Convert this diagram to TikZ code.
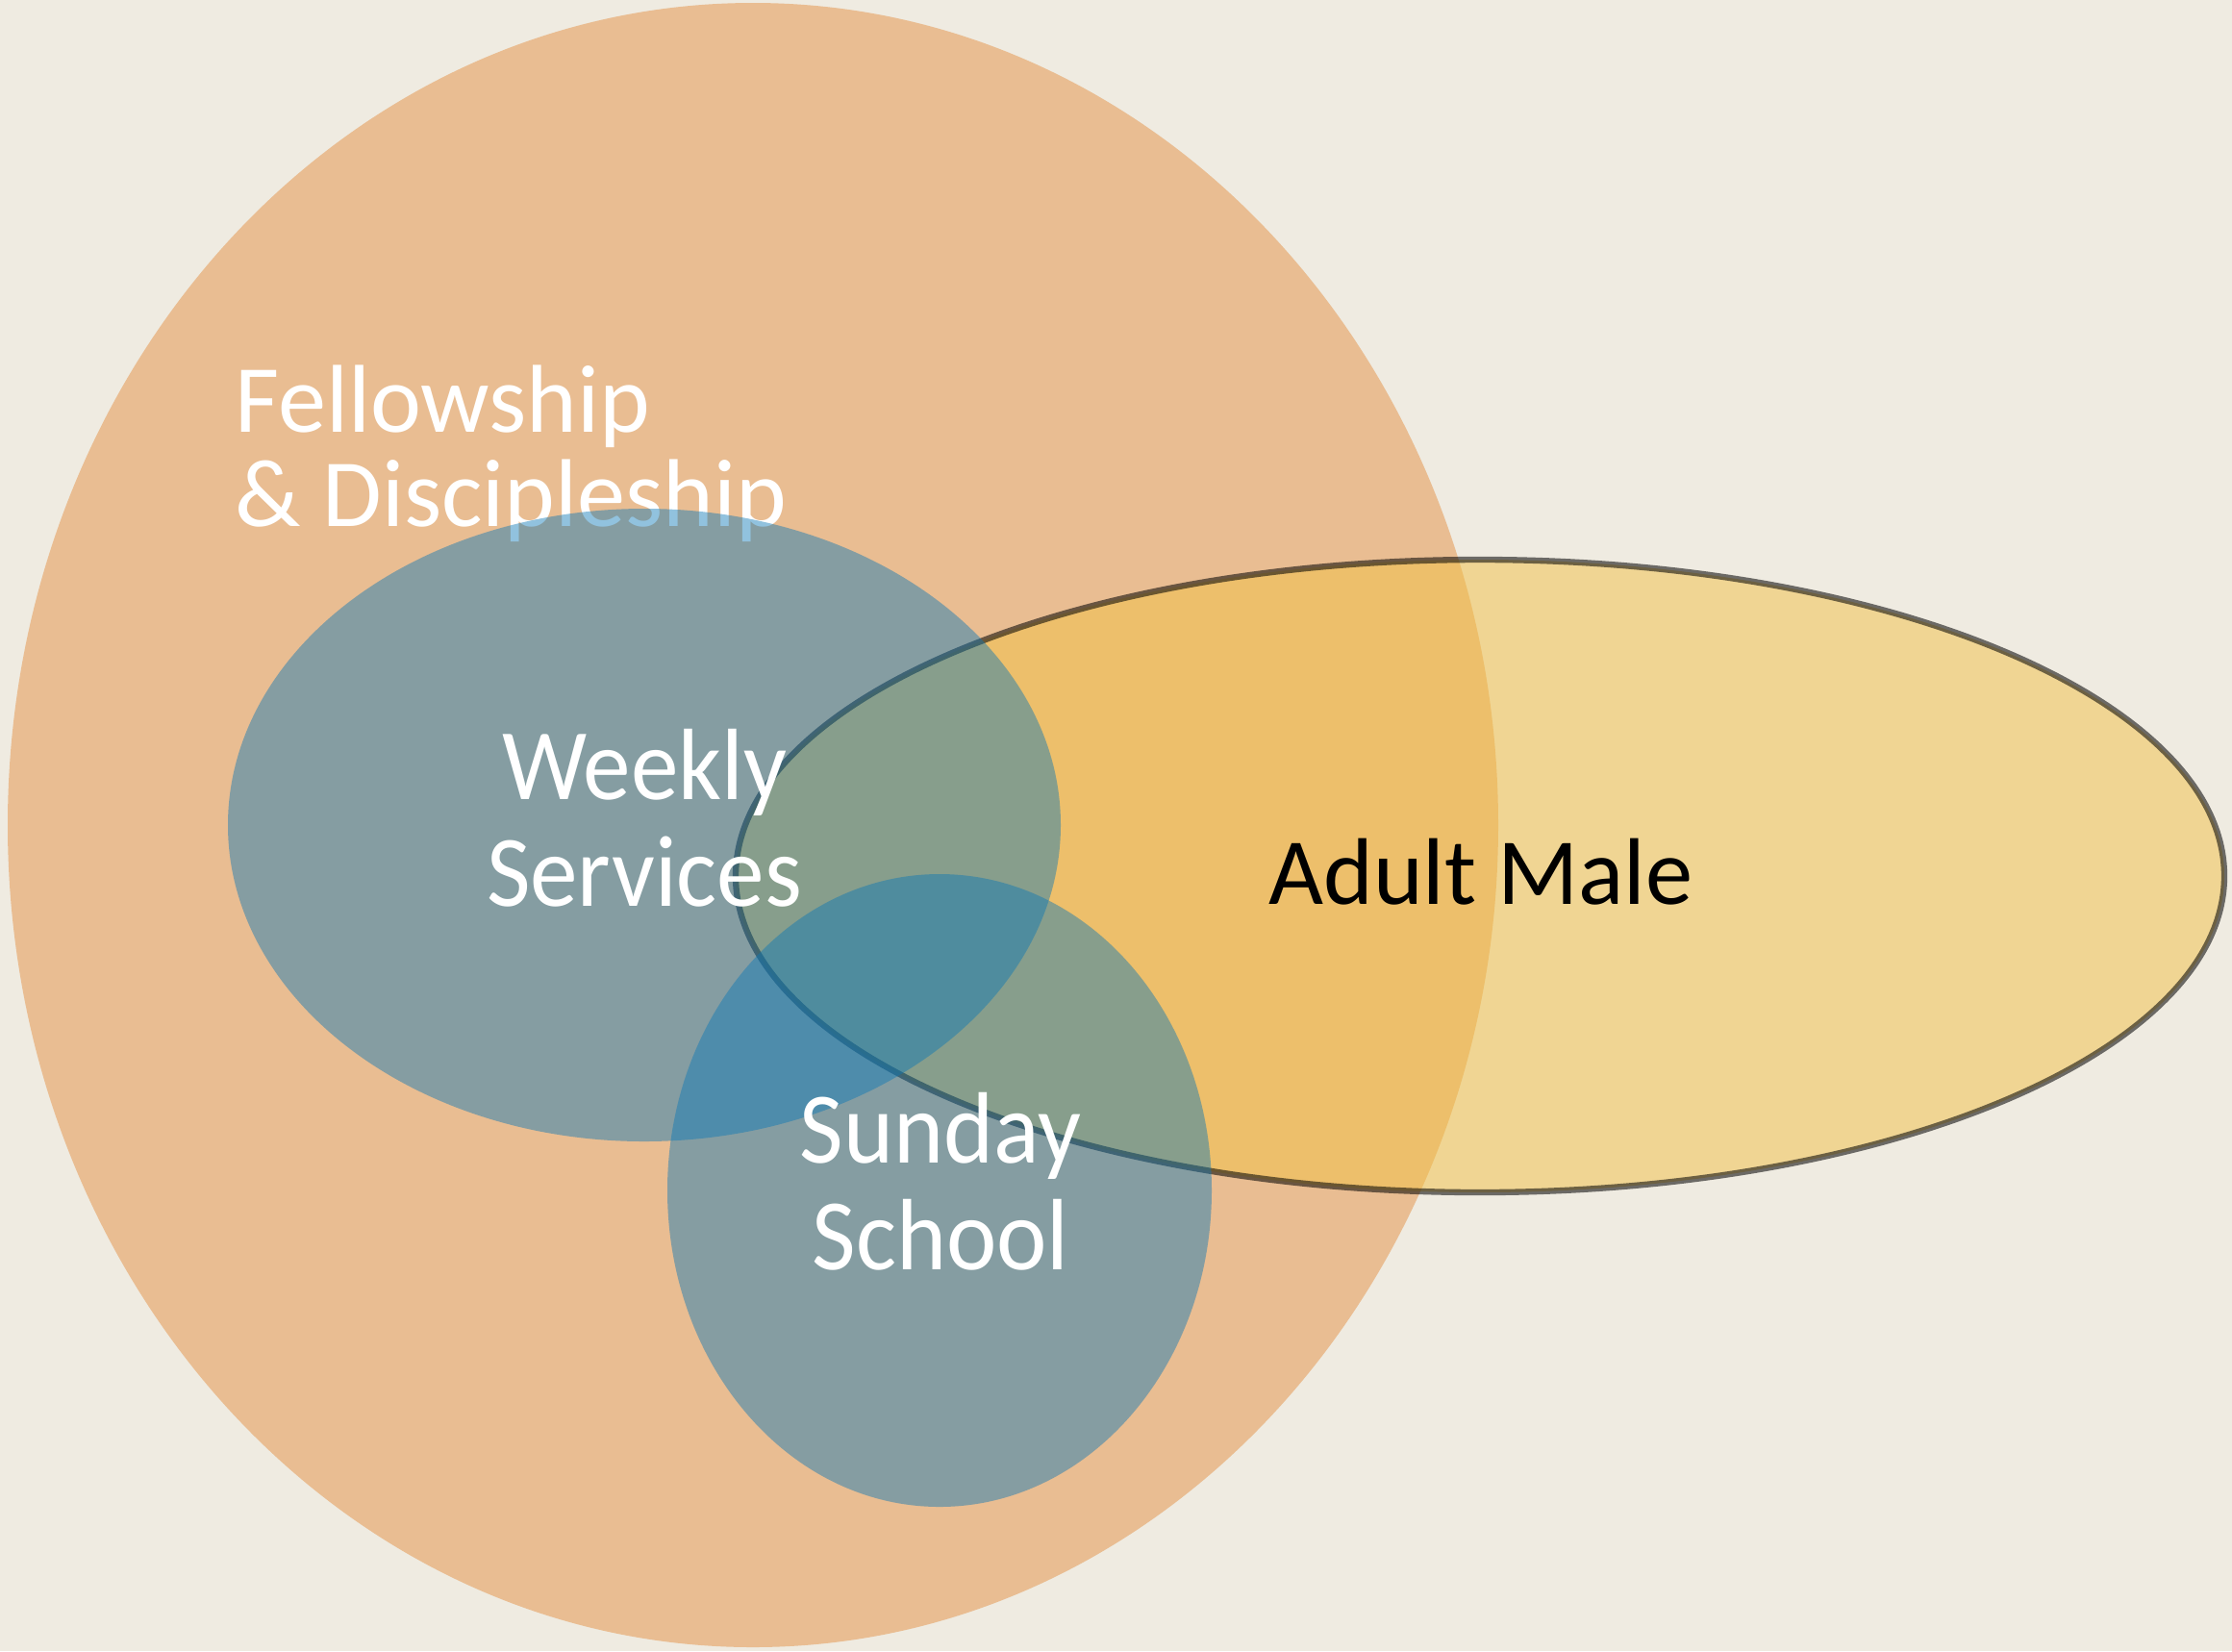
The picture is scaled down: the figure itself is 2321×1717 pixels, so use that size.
\documentclass[tikz,border=0pt]{standalone}
\usepackage{fontspec}
\setmainfont{Carlito}
\newfontfamily\narrowfont[FakeStretch=0.94]{Carlito}
\definecolor{paper}{RGB}{239,235,225}
\definecolor{fellow}{RGB}{233,189,146}
\definecolor{male}{RGB}{241,193,70}
\definecolor{service}{RGB}{13,120,182}
\tikzset{
  venntext/.style={inner sep=0pt, align=center, text=white},
  bigtext/.style={font=\narrowfont\fontsize{30}{31.3}\selectfont},
}

\begin{document}
\begin{tikzpicture}[x=0.01cm,y=-0.01cm]

            \fill[paper] (0,0) rectangle (2321,1717);
            \useasboundingbox (0,0) rectangle (2321,1717);

            \coordinate (F) at (783,858);
            \coordinate (W) at (670,858);
            \coordinate (S) at (977,1238);
            \coordinate (M) at (1539,911);

            \fill[fellow] (F) ellipse [x radius=775, y radius=855];
            \node[venntext, align=left, anchor=base west, font=\fontsize{28.5}{27.7}\selectfont] (fellowship) at (244,547) {Fellowship\\\& Discipleship};

            \filldraw[fill=male, fill opacity=0.5, draw=black, draw opacity=0.55, line width=1.8pt] (M) ellipse [x radius=774, y radius=329];

            \begin{scope}[fill=service, fill opacity=0.45]
                \fill (W) ellipse [x radius=433, y radius=329];
                \fill (S) ellipse [x radius=283, y radius=329];
            \end{scope}

            \node[venntext, bigtext, anchor=base] (weekly) at (670,942) {Weekly\\Services};
            \node[venntext, bigtext, anchor=base] (sunday) at (978,1320) {Sunday\\School};
            \node[inner sep=0pt, anchor=base, font=\fontsize{28}{30}\selectfont] (adult) at (1540,940) {Adult Male};
        \end{tikzpicture}
\end{document}
